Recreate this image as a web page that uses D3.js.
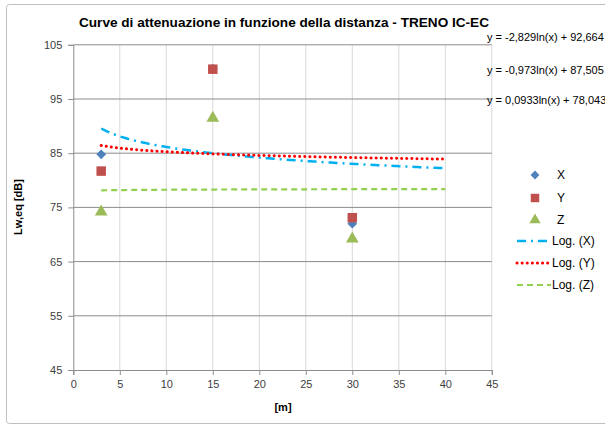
<!DOCTYPE html>
<html><head><meta charset="utf-8">
<script src="https://cdn.jsdelivr.net/npm/d3@7"></script>
<style>body{margin:0;background:#fff}svg{display:block}text{font-family:"Liberation Sans",Arial,sans-serif}</style>
</head><body><svg id="c" width="605" height="427"></svg>
<script>
const distances = [3, 15, 30];
const seriesX = [84.8, 100.6, 72.0];
const seriesY = [81.7, 100.5, 73.1];
const seriesZ = [74.2, 91.5, 69.2];
const seriesNames = ["X", "Y", "Z"];
const trendNames = ["Log. (X)", "Log. (Y)", "Log. (Z)"];
const trendSlopes = [-2.829, -0.973, 0.0933];
const trendIntercepts = [92.664, 87.505, 78.043];
const trendLabels = ["y = -2,829ln(x) + 92,664", "y = -0,973ln(x) + 87,505", "y = 0,0933ln(x) + 78,043"];
const trendRange = [3, 40];
const xTicks = [0, 5, 10, 15, 20, 25, 30, 35, 40, 45];
const yTicks = [45, 55, 65, 75, 85, 95, 105];

const svg = d3.select("#c");
const colors = ["#4f81bd", "#c0504d", "#9bbb59"];
const trendColors = ["#00b0f0", "#ff0000", "#92d050"];
const x = d3.scaleLinear().domain([0, 45]).range([73.3, 491.8]);
const y = d3.scaleLinear().domain([45, 105]).range([370, 44.8]);

// outer border
svg.append("rect").attr("x", 6.5).attr("y", 4.5).attr("width", 640).attr("height", 419)
  .attr("rx", 3).attr("fill", "none").attr("stroke", "#bfbfbf").attr("stroke-width", 1);

// vertical gridlines
svg.append("g").selectAll("line").data(xTicks.slice(1)).join("line")
  .attr("x1", d => x(d)).attr("x2", d => x(d)).attr("y1", y(105)).attr("y2", y(45))
  .attr("stroke", "#d9d9d9").attr("stroke-width", 1);
// horizontal gridlines
svg.append("g").selectAll("line").data(yTicks.slice(1)).join("line")
  .attr("x1", x(0)).attr("x2", x(45)).attr("y1", d => y(d)).attr("y2", d => y(d))
  .attr("stroke", "#8c8c8c").attr("stroke-width", 1);

// axes
const xAxis = svg.append("g").attr("transform", `translate(0,${y(45)})`)
  .call(d3.axisBottom(x).tickValues(xTicks).tickSize(5).tickPadding(5));
const yAxis = svg.append("g").attr("transform", `translate(${x(0)},0)`)
  .call(d3.axisLeft(y).tickValues(yTicks).tickSize(5).tickPadding(6));
[xAxis, yAxis].forEach(g => {
  g.select(".domain").attr("stroke", "#8c8c8c");
  g.selectAll(".tick line").attr("stroke", "#8c8c8c");
  g.selectAll(".tick text").attr("font-size", 11).attr("fill", "#404040")
    .attr("font-family", "Liberation Sans, Arial, sans-serif");
});

// trendlines
const lineGen = d3.line().x(d => x(d[0])).y(d => y(d[1]));
const dashes = ["9,5,2,5", "0.1,5", "6,4"];
const widths = [2.5, 3, 2.2];
const caps = ["butt", "round", "butt"];
trendSlopes.forEach((a, i) => {
  const pts = d3.range(trendRange[0], trendRange[1] + 0.001, 0.25).map(t => [t, a * Math.log(t) + trendIntercepts[i]]);
  svg.append("path").datum(pts).attr("d", lineGen).attr("fill", "none")
    .attr("stroke", trendColors[i]).attr("stroke-width", widths[i])
    .attr("stroke-dasharray", dashes[i]).attr("stroke-linecap", caps[i]);
});

// markers
const symTypes = [d3.symbolSquare, d3.symbolSquare, d3.symbolTriangle];
const symRot = [45, 0, 0];
const symSizes = [48, 90, 70];
const order = [2, 0, 1];
order.forEach(i => {
  const vals = [seriesX, seriesY, seriesZ][i];
  svg.append("g").selectAll("path").data(distances).join("path")
    .attr("transform", (d, j) => `translate(${x(d)},${y(vals[j])}) rotate(${symRot[i]})`)
    .attr("d", d3.symbol().type(symTypes[i]).size(symSizes[i]))
    .attr("fill", colors[i]);
});

// title
svg.append("text").attr("x", 284).attr("y", 27).attr("text-anchor", "middle")
  .attr("font-size", 13.5).attr("font-weight", "bold").attr("fill", "#000")
  .attr("textLength", 410).attr("lengthAdjust", "spacingAndGlyphs")
  .text("Curve di attenuazione in funzione della distanza - TRENO IC-EC");

// axis titles
svg.append("text").attr("transform", "translate(22,207) rotate(-90)").attr("text-anchor", "middle")
  .attr("font-size", 11).attr("font-weight", "bold").attr("fill", "#000").text("Lw,eq [dB]");
svg.append("text").attr("x", 283).attr("y", 411).attr("text-anchor", "middle")
  .attr("font-size", 11).attr("font-weight", "bold").attr("fill", "#000").text("[m]");

// equations
const eqY = [41, 74, 104];
trendLabels.forEach((t, i) => {
  svg.append("text").attr("x", 487).attr("y", eqY[i]).attr("font-size", 11)
    .attr("fill", "#000").text(t);
});

// legend
const lg = svg.append("g");
const legY = [175, 198, 220];
seriesNames.forEach((n, i) => {
  lg.append("path").attr("transform", `translate(535,${legY[i]}) rotate(${symRot[i]})`)
    .attr("d", d3.symbol().type(symTypes[i]).size(symSizes[i] * 0.8)).attr("fill", colors[i]);
  lg.append("text").attr("x", 557).attr("y", legY[i] + 4).attr("font-size", 12).attr("fill", "#000").text(n);
});
const tY = [241, 263, 285];
trendNames.forEach((n, i) => {
  lg.append("line").attr("x1", 517).attr("x2", 551).attr("y1", tY[i]).attr("y2", tY[i])
    .attr("stroke", trendColors[i]).attr("stroke-width", widths[i])
    .attr("stroke-dasharray", dashes[i]).attr("stroke-linecap", caps[i]);
  lg.append("text").attr("x", 552).attr("y", tY[i] + 4).attr("font-size", 12).attr("fill", "#000").text(n);
});
</script></body></html>
